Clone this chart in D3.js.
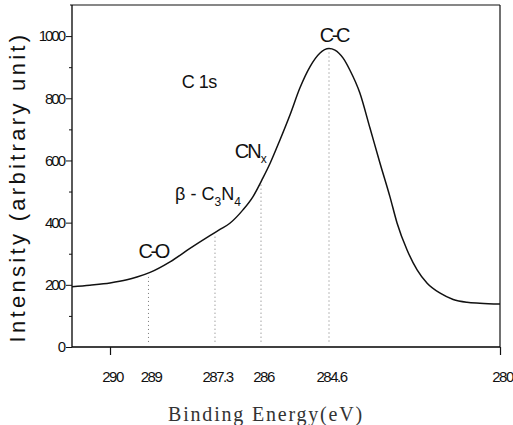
<!DOCTYPE html>
<html>
<head>
<meta charset="utf-8">
<script src="https://cdn.jsdelivr.net/npm/d3@7"></script>
<style>
  html, body { margin: 0; padding: 0; background: #fff; }
  svg { display: block; }
</style>
</head>
<body>
<svg id="chart" width="513" height="425"></svg>
<script>
// ---- data ----
const energy = [291.0, 290.53, 290.0, 289.56, 289.30, 288.96, 288.45, 287.94, 287.43, 287.16,
  286.88, 286.51, 286.23, 285.96, 285.81, 285.61, 285.40, 285.20, 284.99, 284.79, 284.6,
  284.44, 284.22, 284.04, 283.77, 283.50, 283.23, 282.96, 282.77, 282.50, 282.23, 281.96,
  281.61, 281.26, 280.89, 280.54, 280.0];
const intensity = [194, 199, 206, 216, 225, 240, 274, 317, 358, 378,
  398, 441, 483, 544, 592, 666, 748, 833, 902, 945, 960,
  955, 929, 891, 817, 705, 592, 483, 399, 312, 248, 205,
  173, 153, 144, 141, 138];
const xTickLabels = [290, 289, 287.3, 286, 284.6, 280];
const xTickMarks = [290, 280];
const yMajorTicks = [0, 200, 400, 600, 800, 1000];
const yMinorTicks = [100, 300, 500, 700, 900];
const markerEnergies = [289, 287.3, 286, 284.6];
const xDomain = [291, 290, 289, 287.3, 286, 284.6, 280];
const yDomain = [0, 1100];

// ---- layout ----
const svg = d3.select("#chart");
const margin = {left: 72, top: 5, right: 13, bottom: 78};
const W = 513 - margin.left - margin.right;
const H = 425 - margin.top - margin.bottom;
const g = svg.append("g").attr("transform", `translate(${margin.left},${margin.top})`);

// The original axis is annotated by hand: labelled positions are not evenly spaced
const xFrac = [0, 0.0888, 0.1787, 0.3341, 0.4416, 0.6005, 1];
const x = d3.scaleLinear().domain(xDomain).range(xFrac.map(f => f * W));
const y = d3.scaleLinear().domain(yDomain).range([H, 0]);

const sans = "'Liberation Sans', Arial, Helvetica, sans-serif";

// frame
g.append("line").attr("x1", -2).attr("x2", W).attr("y1", 0).attr("y2", 0)
  .attr("stroke", "#111").attr("stroke-width", 1.2);
g.append("line").attr("x1", W).attr("x2", W).attr("y1", 0).attr("y2", H)
  .attr("stroke", "#111").attr("stroke-width", 1.2);

// y axis
const yAxis = g.append("g").call(d3.axisLeft(y).tickValues(yMajorTicks).tickSize(6).tickPadding(2)
  .tickFormat(d3.format("d")).tickSizeOuter(0));
const yMinor = g.append("g").call(d3.axisLeft(y).tickValues(yMinorTicks).tickSize(3).tickFormat("").tickSizeOuter(0));
yMinor.select(".domain").remove();
yAxis.select(".domain").attr("stroke-width", 1.3).attr("d", `M0,${y(yDomain[1])}V${H}`);
[yAxis, yMinor].forEach(a => a.selectAll("line").attr("stroke", "#111").attr("stroke-width", 1));
yAxis.selectAll("text").attr("font-family", sans).attr("font-size", 15)
  .attr("letter-spacing", "-2px").attr("fill", "#111");

// x axis
const xAxis = g.append("g").attr("transform", `translate(0,${H})`)
  .call(d3.axisBottom(x).tickValues(xTickLabels).tickSize(0).tickPadding(24)
    .tickFormat(d => String(d)).tickSizeOuter(0));
xAxis.select(".domain").attr("stroke-width", 1.3).attr("d", `M0,0H${W}`);
xAxis.selectAll("text").attr("font-family", sans).attr("font-size", 15)
  .attr("letter-spacing", "-1.5px").attr("fill", "#111").attr("dx", 2);
const xMarks = g.append("g").attr("transform", `translate(0,${H})`)
  .call(d3.axisBottom(x).tickValues(xTickMarks).tickSize(8).tickFormat("").tickSizeOuter(0));
xMarks.select(".domain").remove();
xMarks.selectAll("line").attr("stroke", "#111").attr("stroke-width", 1.2);

// dotted marker lines
const interp = e => {
  for (let i = 0; i < energy.length - 1; i++) {
    if (e <= energy[i] && e >= energy[i + 1]) {
      const t = (energy[i] - e) / (energy[i] - energy[i + 1]);
      return intensity[i] + t * (intensity[i + 1] - intensity[i]);
    }
  }
  return intensity[intensity.length - 1];
};
g.selectAll(".marker").data(markerEnergies).join("line")
  .attr("class", "marker")
  .attr("x1", d => x(d)).attr("x2", d => x(d))
  .attr("y1", d => y(interp(d)) + 4).attr("y2", y(15))
  .attr("stroke", "#777").attr("stroke-width", 1)
  .attr("stroke-dasharray", "1 3");

// spectrum curve
const pts = energy.map((e, i) => [e, intensity[i]]);
g.append("path").datum(pts)
  .attr("fill", "none").attr("stroke", "#111").attr("stroke-width", 1.5)
  .attr("d", d3.line().x(d => x(d[0])).y(d => y(d[1])).curve(d3.curveMonotoneX));

// annotations
const ann = g.append("g").attr("font-family", sans).attr("fill", "#111");
ann.append("text").attr("x", x(287.7)).attr("y", y(833)).attr("text-anchor", "middle")
  .attr("font-size", 18).attr("letter-spacing", "-0.5px").text("C 1s");
ann.append("text").attr("x", x(284.47)).attr("y", y(981)).attr("text-anchor", "middle")
  .attr("font-size", 20).attr("letter-spacing", "-2.5px").text("C-C");
ann.append("text").attr("x", x(288.88)).attr("y", y(286)).attr("text-anchor", "middle")
  .attr("font-size", 20).attr("letter-spacing", "-2.5px").text("C-O");
const cn = ann.append("text").attr("x", x(286.74)).attr("y", y(608))
  .attr("font-size", 20).attr("letter-spacing", "-2px");
cn.append("tspan").text("CN");
cn.append("tspan").attr("font-size", 12).attr("dx", 1).attr("dy", 5).attr("letter-spacing", "0px").text("x");
const bc = ann.append("text").attr("x", x(288.32)).attr("y", y(473))
  .attr("font-size", 18);
bc.append("tspan").text("β - C");
bc.append("tspan").attr("font-size", 12).attr("dx", 0).attr("dy", 6).text("3");
bc.append("tspan").attr("dx", 0).attr("dy", -6).text("N");
bc.append("tspan").attr("font-size", 12).attr("dx", 0).attr("dy", 6).text("4");

// axis titles
svg.append("text")
  .attr("transform", `translate(25,${margin.top + H / 2 + 11}) rotate(-90)`)
  .attr("text-anchor", "middle").attr("font-family", sans).attr("font-size", 22)
  .attr("letter-spacing", "3.3px").attr("fill", "#111")
  .text("Intensity (arbitrary unit)");
svg.append("text")
  .attr("x", 266).attr("y", 421).attr("text-anchor", "middle")
  .attr("font-family", "'Liberation Serif', 'Times New Roman', serif").attr("font-size", 20)
  .attr("letter-spacing", "1.8px").attr("fill", "#333")
  .text("Binding Energy(eV)");
</script>
</body>
</html>
